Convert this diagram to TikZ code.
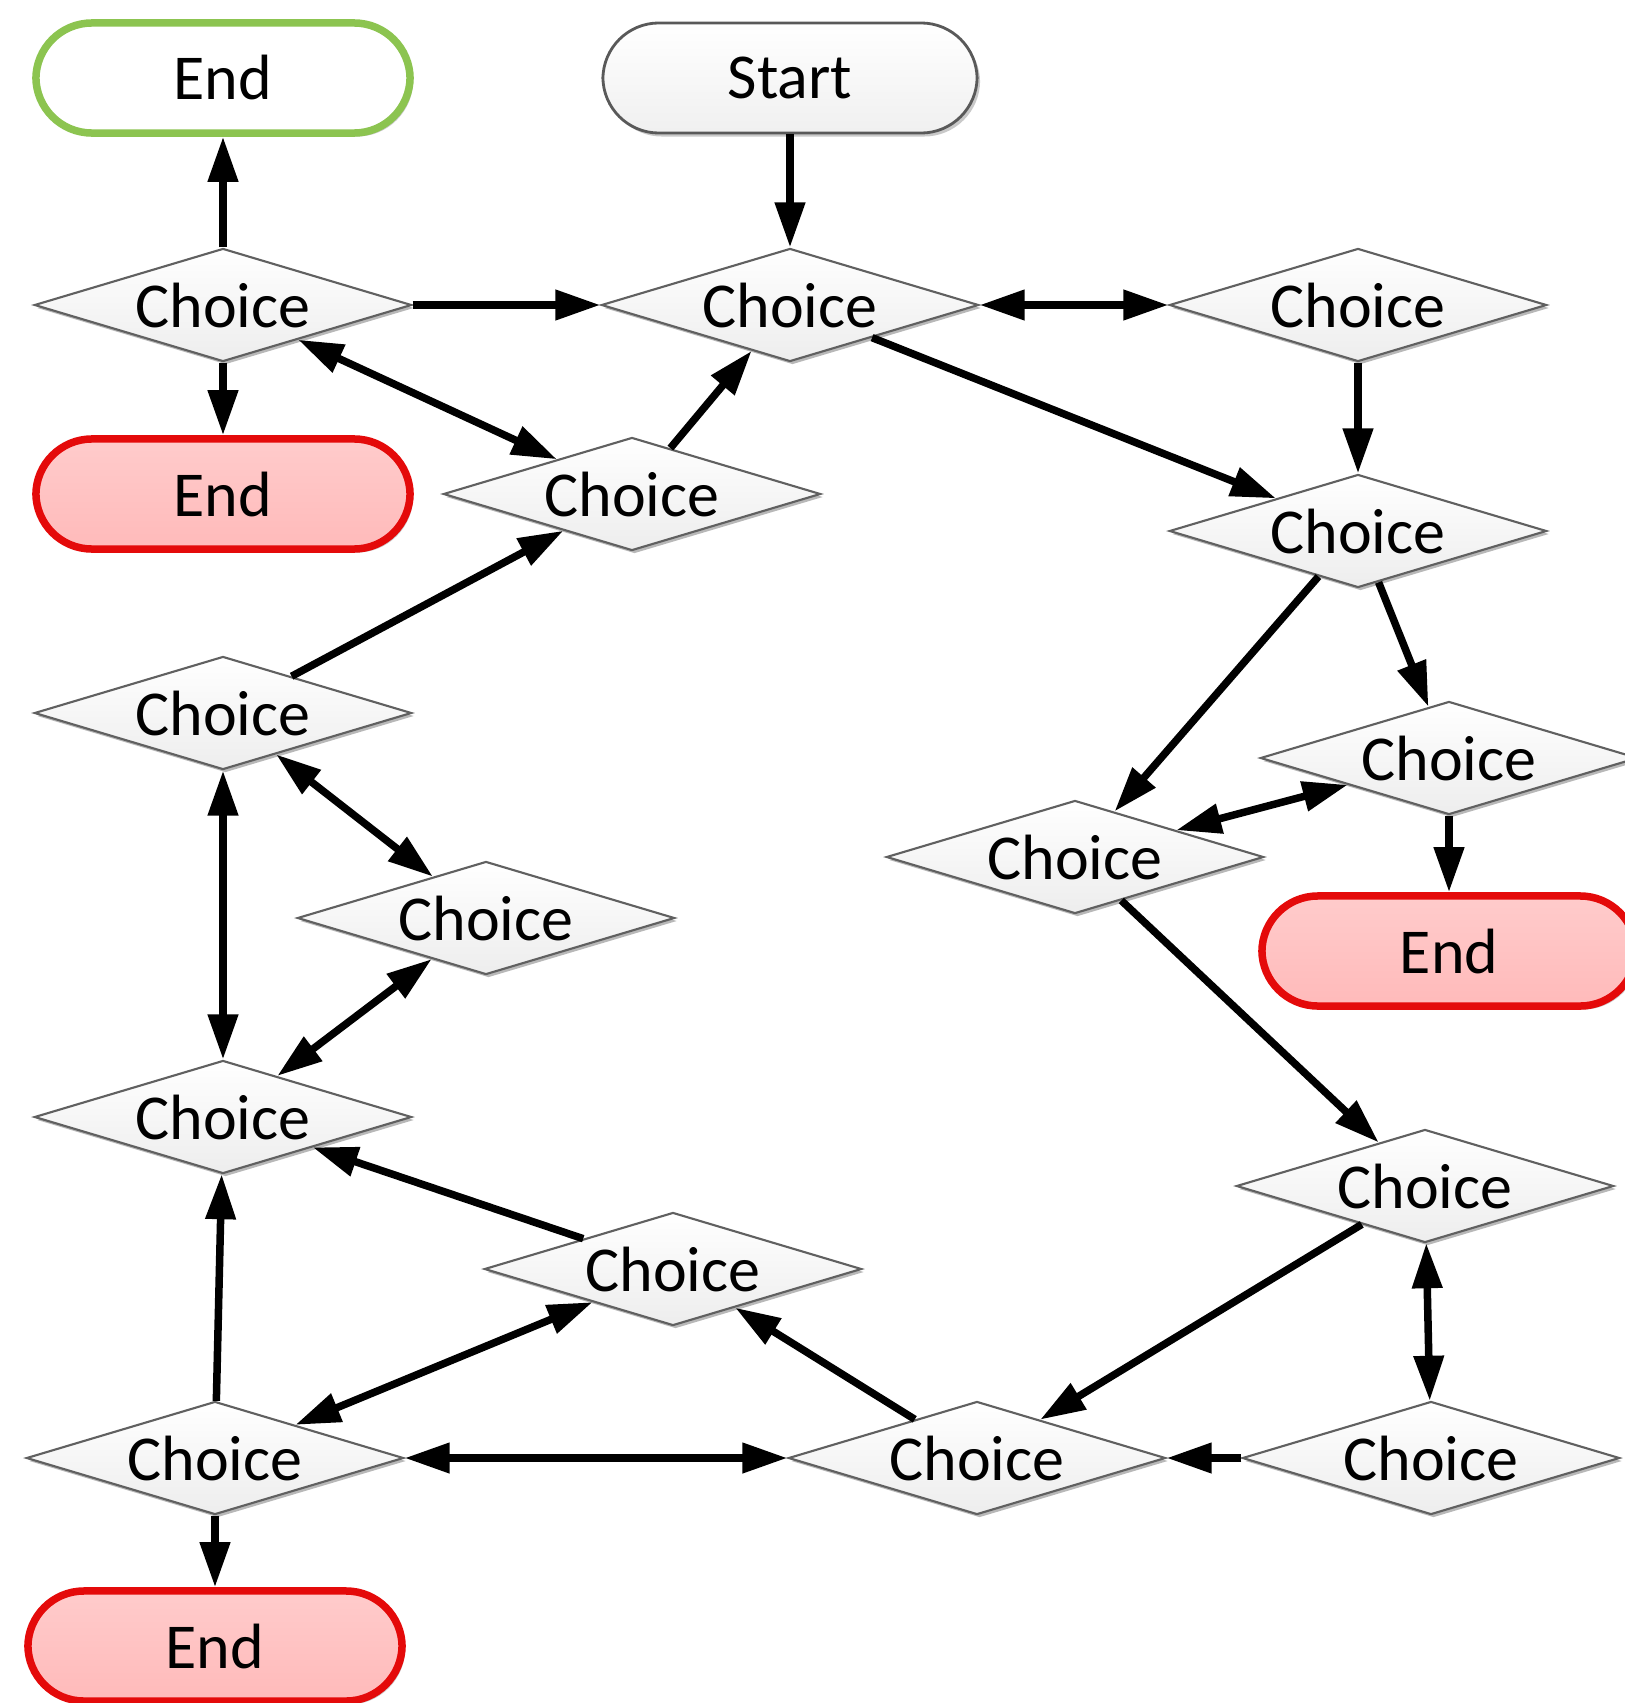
\documentclass[tikz,border=0pt]{standalone}
\usepackage{fontspec}
\setmainfont{Carlito}
\usetikzlibrary{shapes.geometric,arrows.meta,shadows}
\definecolor{endred}{RGB}{228,10,10}
\definecolor{endpink}{RGB}{255,186,186}
\definecolor{endgreen}{RGB}{140,196,80}
\begin{document}
\begin{tikzpicture}[x=0.01cm,y=-0.01cm,
  every node/.style={font=\fontsize{18.2}{22}\selectfont},
  choice/.style={diamond, aspect=3.3, inner sep=0pt,
    minimum width=3.77cm, minimum height=1.13cm,
    draw=gray!75!black, line width=0.6pt,
    top color=white, bottom color=gray!14,
    drop shadow={shadow xshift=0.025cm, shadow yshift=-0.03cm, fill=gray!70, opacity=0.8}},
  terminal/.style={rectangle, rounded corners=0.56cm,
    minimum width=3.74cm, minimum height=1.1cm,
    drop shadow={shadow xshift=0.03cm, shadow yshift=-0.035cm, fill=gray!60, opacity=0.7}},
  startbox/.style={terminal, draw=gray!70!black, line width=0.8pt,
    top color=white, bottom color=gray!12},
  okend/.style={terminal, draw=endgreen, line width=0.075cm, fill=white},
  failend/.style={terminal, draw=endred, line width=0.075cm,
    top color=endpink!75, bottom color=endpink},
  link/.style={line width=0.075cm, -{Triangle[length=0.45cm,width=0.29cm]}},
  both/.style={line width=0.075cm, {Triangle[length=0.45cm,width=0.29cm]}-{Triangle[length=0.45cm,width=0.29cm]}}
]
\useasboundingbox (0,0) rectangle (1625,1703);

% terminals
\node[okend]   (e1) at (223,78)   {End};
\node[startbox](s)  at (790,78)   {Start};
\node[failend] (e2) at (223,494)  {End};
\node[failend] (e3) at (1449,951) {End};
\node[failend] (e4) at (215,1646) {End};

% decisions
\node[choice] (c1)  at (223,305)   {Choice};
\node[choice] (c2)  at (790,305)   {Choice};
\node[choice] (c3)  at (1358,305)  {Choice};
\node[choice] (c4)  at (632,494)   {Choice};
\node[choice] (c5)  at (1358,531)  {Choice};
\node[choice] (c6)  at (223,713)   {Choice};
\node[choice] (c7)  at (1449,758)  {Choice};
\node[choice] (c8)  at (1075,857)  {Choice};
\node[choice] (c9)  at (486,918)   {Choice};
\node[choice] (c10) at (223,1117)  {Choice};
\node[choice] (c11) at (1425,1186) {Choice};
\node[choice] (c12) at (673,1269)  {Choice};
\node[choice] (c13) at (215,1458)  {Choice};
\node[choice] (c14) at (977,1458)  {Choice};
\node[choice] (c15) at (1431,1458) {Choice};

% connectors
\draw[link] (s) -- (c2);
\draw[link] (c1) -- (e1);
\draw[link] (c1) -- (c2);
\draw[link] (c1) -- (e2);
\draw[both] (c1) -- (c4);
\draw[link] (c4) -- (c2);
\draw[both] (c2) -- (c3);
\draw[link] (c2) -- (c5);
\draw[link] (c3) -- (c5);
\draw[link] (c6) -- (c4);
\draw[both] (c6) -- (c9);
\draw[both] (c6) -- (c10);
\draw[both] (c9) -- (c10);
\draw[link] (c5) -- (c8);
\draw[link] (c5) -- (c7);
\draw[both] (c7) -- (c8);
\draw[link] (c7) -- (e3);
\draw[link] (c8) -- (c11);
\draw[link] (c12) -- (c10);
\draw[both] (c13) -- (c12);
\draw[link] (c13) -- (c10);
\draw[both] (c13) -- (c14);
\draw[link] (c14) -- (c12);
\draw[link] (c11) -- (c14);
\draw[both] (c11) -- (c15);
\draw[link] (c15) -- (c14);
\draw[link] (c13) -- (e4);
\end{tikzpicture}
\end{document}
